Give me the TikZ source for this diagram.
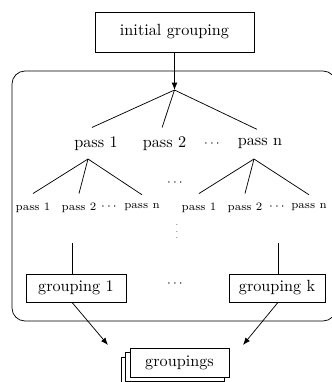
\documentclass[tikz,border=0pt]{standalone}
\usepackage{amsmath}
\usetikzlibrary{arrows.meta,shadows}
\begin{document}
\begin{tikzpicture}[x=0.617pt,y=-0.617pt,line width=0.45pt,
  box/.style={draw,fill=white,inner sep=0pt},
  biglbl/.style={inner xsep=0pt,inner ysep=5.3pt},
  smalllbl/.style={font=\scriptsize,inner xsep=0pt,inner ysep=5.4pt},
  gap/.style={font=\tiny,inner sep=0pt},
  vgap/.style={font=\tiny,inner sep=0pt},
  arr/.style={-{Latex[length=4.5pt,width=3.5pt]}}]
\useasboundingbox (0,0) rectangle (332,382);

% outer container
\draw[rounded corners=8pt] (12,71) rectangle (336,321);

% input
\node[box,minimum width=98.1pt,minimum height=24.7pt] (init) at (174.5,32) {initial grouping};
\coordinate (a0) at (174.5,90);
\draw[arr] (init.south) -- (a0);

% first level of passes
\node[biglbl] (p1) at (96,143.4) {pass 1};
\node[biglbl] (p2) at (164.5,143.4) {pass 2};
\node[gap] (pd) at (213,143) {$\boldsymbol{\cdots}$};
\node[biglbl] (pn) at (260,143.4) {pass n};
\draw (a0) -- ([xshift=-2.5pt]p1.north);
\draw (a0) -- ([xshift=-1.5pt]p2.north);
\draw (a0) -- ([xshift=-2pt]pn.north);

% second level of passes
\coordinate (a1) at (88,159);
\coordinate (a2) at (254,159);
\node[smalllbl] (s11) at (33,207.5) {pass 1};
\node[smalllbl] (s12) at (79,207.5) {pass 2};
\node[gap] (s1d) at (110,206) {$\boldsymbol{\cdots}$};
\node[smalllbl] (s1n) at (142,207.5) {pass n};
\node[smalllbl] (s21) at (199,207.5) {pass 1};
\node[smalllbl] (s22) at (245,207.5) {pass 2};
\node[gap] (s2d) at (278,206) {$\boldsymbol{\cdots}$};
\node[smalllbl] (s2n) at (309,207.5) {pass n};
\foreach \t in {s11,s12,s1n} \draw (a1) -- (\t.north);
\foreach \t in {s21,s22,s2n} \draw (a2) -- (\t.north);
\node[gap] (md) at (176,182) {$\boldsymbol{\cdots}$};
\node[vgap] (vd) at (177,227) {$\boldsymbol{\vdots}$};

% resulting groupings
\node[box,minimum width=61.7pt,minimum height=17.3pt] (g1) at (76,288) {grouping 1};
\node[box,minimum width=59.3pt,minimum height=17.3pt] (gk) at (277,288) {grouping k};
\node[gap] (gd) at (176,283) {$\boldsymbol{\cdots}$};
\coordinate (c1) at (72,243);
\coordinate (ck) at (278,243);
\draw (c1) -- (c1 |- g1.north);
\draw (ck) -- (ck |- gk.north);

% collected output
\node[box,minimum width=61pt,minimum height=17.9pt,
  double copy shadow={shadow xshift=-2.8pt,shadow yshift=-2.8pt,draw,fill=white}] (out) at (179.5,362.5) {groupings};
\coordinate (e1) at (108,345);
\coordinate (ek) at (243,345);
\draw[arr] (c1 |- g1.south) -- (e1);
\draw[arr] (ck |- gk.south) -- (ek);
\end{tikzpicture}
\end{document}
